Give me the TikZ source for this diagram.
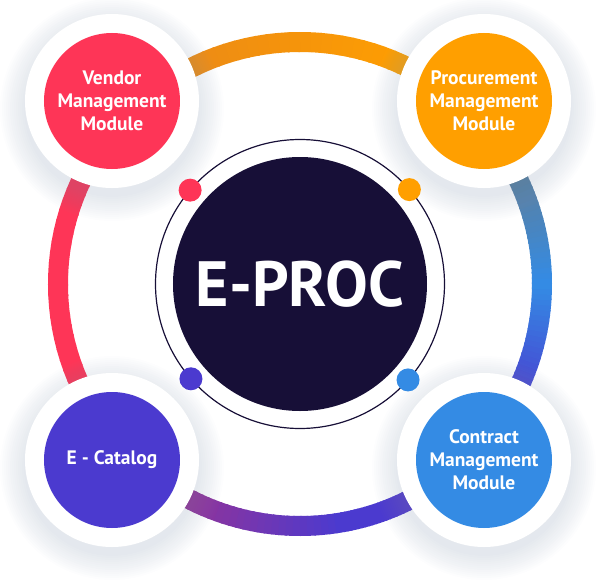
\documentclass[tikz,border=0pt]{standalone}
\usepackage{fontspec}
\setmainfont{PT Sans}
\usepackage{tikz}

\definecolor{vendorred}{HTML}{FE3557}
\definecolor{procorange}{HTML}{FF9F00}
\definecolor{contractblue}{HTML}{348BE4}
\definecolor{catalogviolet}{HTML}{4B3ACF}
\definecolor{procnavy}{HTML}{170F37}
\definecolor{ringgray}{HTML}{627E93}
\definecolor{ringmagenta}{HTML}{963396}
\definecolor{ringamber}{HTML}{EC8A16}
\definecolor{haze}{HTML}{8A9CB3}

\newcommand{\ringpart}[4]{%
  \foreach \k in {0,...,23}{%
    \pgfmathsetmacro{\angA}{#1+(#2-#1)*\k/24}%
    \pgfmathsetmacro{\angB}{#1+(#2-#1)*(\k+1)/24+0.4}%
    \pgfmathtruncatemacro{\mixpct}{100*\k/23}%
    \draw[line width=20pt, color=#4!\mixpct!#3] (\angA:242) arc[start angle=\angA, end angle=\angB, radius=242];
  }}

\begin{document}
\begin{tikzpicture}[x=1pt,y=1pt]
	\tikzstyle{every node}+=[inner sep=0pt]
	\tikzstyle{halo}=[circle, fill=white, minimum size=174pt]
	\tikzstyle{module}=[circle, minimum size=136pt, text=white, align=center, font=\bfseries\fontsize{19.5}{23}\selectfont]
	\useasboundingbox (-300,-300) rectangle (297,284);
	\ringpart{-30}{0}{catalogviolet}{contractblue}
	\ringpart{0}{30}{contractblue}{ringgray}
	\ringpart{60}{120}{procorange}{ringamber}
	\ringpart{150}{210}{vendorred}{vendorred}
	\ringpart{240}{280}{ringmagenta}{catalogviolet}
	\ringpart{280}{300}{catalogviolet}{catalogviolet}
	\foreach \cx/\cy in {-188/183, 184/183, -188/-176, 184/-176}{
		\foreach \r in {88,90,...,112}
			\fill [haze, opacity=0.02] (\cx,\cy-8) circle (\r);
	}
	\node [halo] (vendorhalo) at (-188,183) {};
	\node [halo] (procurehalo) at (184,183) {};
	\node [halo] (cataloghalo) at (-188,-176) {};
	\node [halo] (contracthalo) at (184,-176) {};
	\node [module, fill=vendorred] (vendor) at (vendorhalo) {Vendor\\Management\\Module};
	\node [module, fill=procorange] (procure) at (procurehalo) {Procurement\\Management\\Module};
	\node [module, fill=catalogviolet] (catalog) at (cataloghalo) {E - Catalog};
	\node [module, fill=contractblue] (contract) at (contracthalo) {Contract\\Management\\Module};
	\draw [procnavy, line width=1.2pt] (0,0) circle (144.5);
	\node [circle, fill=procnavy, minimum size=254pt, text=white, font=\bfseries\fontsize{64}{70}\selectfont] (eproc) at (0,0) {E-PROC};
	\fill [vendorred] (139.5:144.5) circle (11.5);
	\fill [procorange] (40.8:144.5) circle (11.5);
	\fill [catalogviolet] (221:144.5) circle (11.5);
	\fill [contractblue] (-41.6:144.5) circle (11.5);
\end{tikzpicture}
\end{document}
